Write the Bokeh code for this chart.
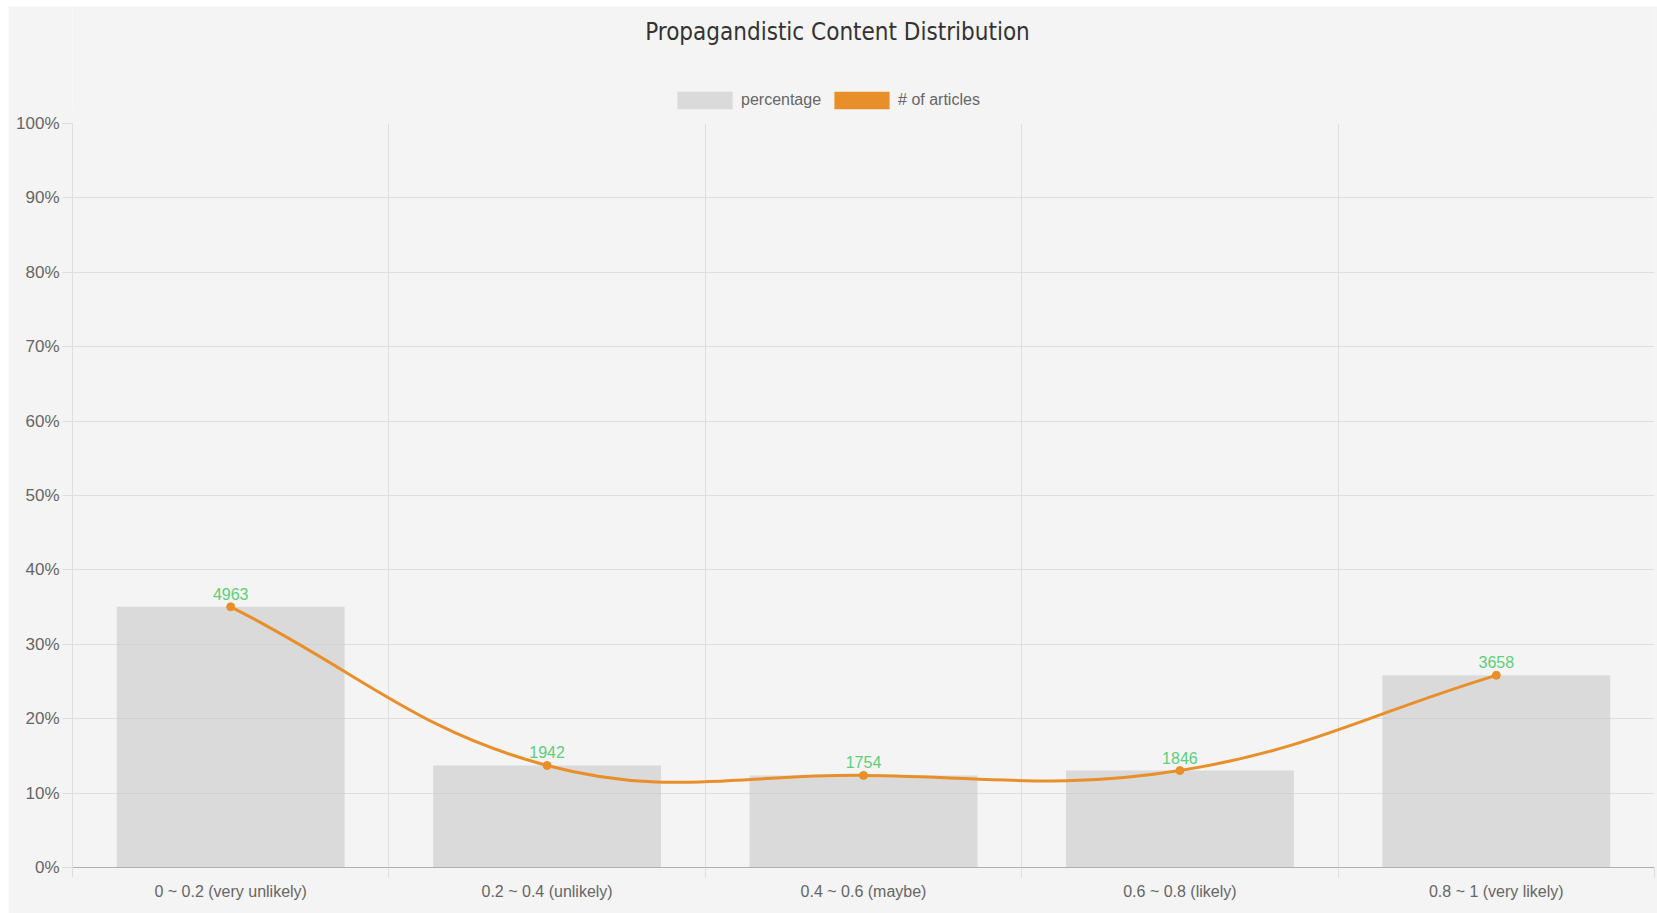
import math
from bokeh.plotting import figure
from bokeh.layouts import row, column
from bokeh.models import (ColumnDataSource, FixedTicker, PrintfTickFormatter, Legend,
                          LegendItem, Range1d, Spacer, Label)
from bokeh.embed import file_html
from bokeh.resources import INLINE

# ---- data ----
title_text = "Propagandistic Content Distribution"
categories = ["0 ~ 0.2 (very unlikely)", "0.2 ~ 0.4 (unlikely)", "0.4 ~ 0.6 (maybe)",
              "0.6 ~ 0.8 (likely)", "0.8 ~ 1 (very likely)"]
percentages = [35.04, 13.71, 12.38, 13.03, 25.83]
articles = [4963, 1942, 1754, 1846, 3658]
y_ticks = [0, 10, 20, 30, 40, 50, 60, 70, 80, 90, 100]
series_names = ["percentage", "# of articles"]

# ---- style ----
BG = "#f4f4f4"
GRID = "#dedede"
BAR = "#c8c8c8"
ORANGE = "#e98f2a"
GREEN = "#5dcf79"
TXT = "#666666"
FONT = "Liberation Sans"

W = 1649
HH = 106          # header (title + legend) height
H = 802           # chart height
BL, BR, BT, BB = 64, 3, 12, 46

xpos = [i + 0.5 for i in range(len(categories))]

# ---------------- main chart ----------------
p = figure(width=W, height=H, output_backend="svg", toolbar_location=None,
           x_range=Range1d(0, len(categories)), y_range=Range1d(0, 100),
           min_border_left=BL, min_border_right=BR, min_border_top=BT, min_border_bottom=BB)
p.background_fill_color = BG
p.border_fill_color = BG
p.outline_line_color = None
p.margin = (-1, 0, 0, 0)

src = ColumnDataSource(dict(x=xpos, pct=percentages, n=[str(a) for a in articles]))
bars = p.vbar(x="x", top="pct", width=0.72, source=src, fill_color=BAR, fill_alpha=0.6,
              line_color=None)

# Chart.js-like bezier (tension 0.4) computed in pixel space
fw = W - BL - BR
fh = H - BT - BB
sx = fw / len(categories)
sy = fh / 100.0
pts = [(x * sx, y * sy) for x, y in zip(xpos, percentages)]
t = 0.4
ctrl = []
n = len(pts)
for i in range(n):
    prev = pts[i - 1] if i > 0 else pts[i]
    cur = pts[i]
    nxt = pts[i + 1] if i < n - 1 else pts[i]
    d01 = math.hypot(cur[0] - prev[0], cur[1] - prev[1])
    d12 = math.hypot(nxt[0] - cur[0], nxt[1] - cur[1])
    tot = d01 + d12
    s01 = d01 / tot if tot else 0
    s12 = d12 / tot if tot else 0
    fa, fb = t * s01, t * s12
    cp = (cur[0] - fa * (nxt[0] - prev[0]), cur[1] - fa * (nxt[1] - prev[1]))
    cn = (cur[0] + fb * (nxt[0] - prev[0]), cur[1] + fb * (nxt[1] - prev[1]))
    ctrl.append((cp, cn))

bz = dict(x0=[], y0=[], x1=[], y1=[], cx0=[], cy0=[], cx1=[], cy1=[])
for i in range(n - 1):
    bz["x0"].append(xpos[i]); bz["y0"].append(percentages[i])
    bz["x1"].append(xpos[i + 1]); bz["y1"].append(percentages[i + 1])
    bz["cx0"].append(ctrl[i][1][0] / sx); bz["cy0"].append(ctrl[i][1][1] / sy)
    bz["cx1"].append(ctrl[i + 1][0][0] / sx); bz["cy1"].append(ctrl[i + 1][0][1] / sy)
p.bezier(x0="x0", y0="y0", x1="x1", y1="y1", cx0="cx0", cy0="cy0", cx1="cx1", cy1="cy1",
         source=ColumnDataSource(bz), line_color=ORANGE, line_width=3)
p.scatter(x="x", y="pct", source=src, size=8, fill_color=ORANGE, line_color=ORANGE)
p.text(x="x", y="pct", text="n", source=src, text_color=GREEN, text_font_size="16px",
       text_font={"value": FONT}, text_align="center", text_baseline="bottom", y_offset=-7)

xa = p.xaxis[0]
xa.ticker = FixedTicker(ticks=xpos, minor_ticks=list(range(len(categories) + 1)))
xa.major_label_overrides = {x: c for x, c in zip(xpos, categories)}
xa.major_tick_line_color = None
xa.major_tick_out = 10
xa.major_tick_in = 0
xa.minor_tick_line_color = GRID
xa.minor_tick_out = 10
xa.minor_tick_in = 0
xa.axis_line_color = "#b0b0b0"
xa.axis_line_width = 1
xa.major_label_text_font = FONT
xa.major_label_text_font_size = "16px"
xa.major_label_text_color = TXT
xa.major_label_standoff = 5

ya = p.yaxis[0]
ya.ticker = FixedTicker(ticks=y_ticks)
ya.formatter = PrintfTickFormatter(format="%d%%")
ya.major_tick_line_color = GRID
ya.major_tick_out = 10
ya.major_tick_in = 0
ya.minor_tick_line_color = None
ya.axis_line_color = GRID
ya.major_label_text_font = FONT
ya.major_label_text_font_size = "17px"
ya.major_label_text_color = TXT
ya.major_label_standoff = 3

p.xgrid.ticker = FixedTicker(ticks=list(range(len(categories) + 1)))
p.xgrid.grid_line_color = GRID
p.ygrid.ticker = FixedTicker(ticks=y_ticks)
p.ygrid.grid_line_color = GRID

# ---------------- header: title + legend ----------------
hf = figure(width=W, height=HH, output_backend="svg", toolbar_location=None,
            x_range=Range1d(0, 1), y_range=Range1d(0, 1),
            x_axis_type=None, y_axis_type=None,
            min_border_left=BL, min_border_right=BR, min_border_top=0, min_border_bottom=0)
hf.background_fill_color = BG
hf.border_fill_color = BG
hf.outline_line_color = None
hf.xgrid.visible = False
hf.ygrid.visible = False

# positions are relative to the header frame, whose left edge is aligned with the chart's
hf.add_layout(Label(x=765, y=HH - 25, x_units="screen", y_units="screen", text=title_text,
                    text_font="DejaVu Sans Condensed", text_font_size="24px",
                    text_color="#333333", text_align="center", text_baseline="middle"))

sw_bar = hf.vbar(x=[0.5], bottom=[0], top=[0], width=0.0, fill_color=BAR, fill_alpha=0.6,
                 line_color=None)
sw_line = hf.vbar(x=[0.5], bottom=[0], top=[0], width=0.0, fill_color=ORANGE,
                  line_color=None)
legend = Legend(items=[LegendItem(label=series_names[0], renderers=[sw_bar]),
                       LegendItem(label=series_names[1], renderers=[sw_line])],
                orientation="horizontal", location=(598, 1))
legend.glyph_width = 69
legend.glyph_height = 22
legend.label_standoff = 2
legend.spacing = 6
legend.padding = 0
legend.margin = 0
legend.background_fill_alpha = 0
legend.border_line_color = None
legend.label_text_font = FONT
legend.label_text_font_size = "16px"
legend.label_text_color = TXT
hf.add_layout(legend, "center")

layout = row(Spacer(width=8), column(Spacer(height=6), hf, p, spacing=0), spacing=0)
open("out.html", "w").write(file_html(layout, INLINE))
